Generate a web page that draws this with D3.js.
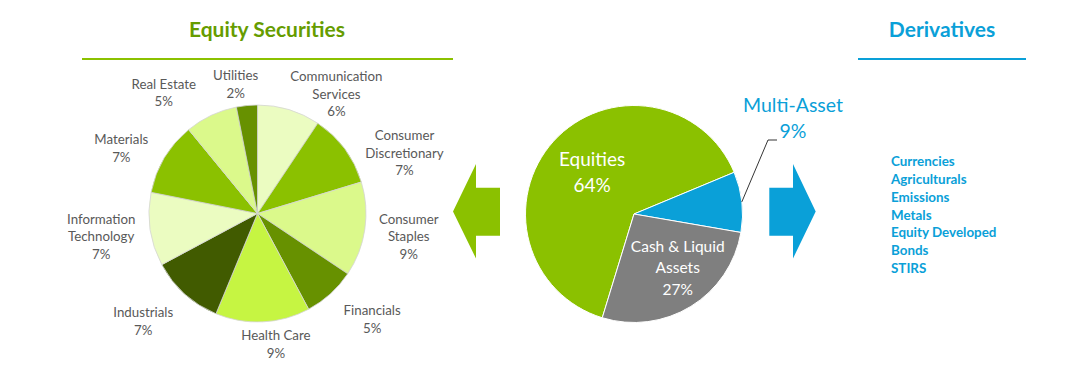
<!DOCTYPE html>
<meta charset="utf-8">
<title>Portfolio breakdown</title>
<body style="margin:0;background:#fff">
<style>
body { font-family: Lato, "Noto Sans", sans-serif; }
.lbl { fill: #595959; font-size: 13.3px; text-anchor: middle; }
.title { font-weight: bold; font-size: 21px; text-anchor: middle; }
</style>
<svg id="chart" width="1072" height="377"></svg>
<script src="https://cdn.jsdelivr.net/npm/d3@7"></script>
<script>
// sectors of the equity book, clockwise from 12 o'clock
var sectors = ["Communication Services", "Consumer Discretionary", "Consumer Staples", "Financials",
  "Health Care", "Industrials", "Information Technology", "Materials", "Real Estate", "Utilities"];
var sectorShares = [6, 7, 9, 5, 9, 7, 7, 7, 5, 2];
var sectorColors = ["#ebfcc1", "#8bc100", "#dbf98b", "#679100", "#c6f542",
  "#415b00", "#ebfcc1", "#8bc100", "#dbf98b", "#679100"];
// label lines as drawn
var sectorLines = [["Communication", "Services"], ["Consumer", "Discretionary"], ["Consumer", "Staples"],
  ["Financials"], ["Health Care"], ["Industrials"], ["Information", "Technology"], ["Materials"],
  ["Real Estate"], ["Utilities"]];

var assets = ["Equities", "Multi-Asset", "Cash & Liquid Assets"];
var assetShares = [64, 9, 27];
var assetColors = ["#8bc100", "#0aa0d8", "#7f7f7f"];

var derivatives = ["Currencies", "Agriculturals", "Emissions", "Metals", "Equity Developed", "Bonds", "STIRS"];

// label placement (angle in degrees, distance from centre) - excel "best fit" look
var sectorLabelPos = [[33.5, 143], [67.6, 159], [98.7, 153], [132.7, 156], [172, 132],
  [226.7, 157], [261.6, 158], [295.6, 151], [322.2, 153], [350.4, 131]];

var svg = d3.select("#chart");
var green = "#8bc100", darkGreen = "#669c00", blue = "#0aa0d8";
var rad = Math.PI / 180;
var R = 108.5;

// ---- titles
svg.append("text").attr("class", "title").attr("x", 267).attr("y", 37)
  .style("fill", darkGreen).text("Equity Securities");
svg.append("rect").attr("x", 82).attr("y", 58).attr("width", 371).attr("height", 2).style("fill", green);
svg.append("text").attr("class", "title").attr("x", 942).attr("y", 37)
  .style("fill", blue).text("Derivatives");
svg.append("rect").attr("x", 858).attr("y", 58).attr("width", 168).attr("height", 2).style("fill", blue);

// ---- left pie
var gL = svg.append("g").attr("transform", "translate(257.5,213.5)");
var pieL = d3.pie().sort(null).value(function(d) { return d; });
var arcL = d3.arc().innerRadius(0).outerRadius(R);
gL.selectAll("path").data(pieL(sectorShares)).enter().append("path")
  .attr("d", arcL)
  .style("fill", function(d, i) { return sectorColors[i]; })
  .style("stroke", "#d4d4d4").style("stroke-width", 0.8);

var lineH = 17.5;
gL.selectAll("text.lbl").data(sectors).enter().append("text")
  .attr("class", "lbl")
  .each(function(d, i) {
    var p = d3.pointRadial(sectorLabelPos[i][0] * rad, sectorLabelPos[i][1]);
    var lines = sectorLines[i].concat([sectorShares[i] + "%"]);
    var top = p[1] - (lines.length - 1) * lineH / 2;
    var t = d3.select(this);
    lines.forEach(function(s, k) {
      t.append("tspan").attr("x", p[0]).attr("y", top + k * lineH + 4.7).text(s);
    });
  });

// ---- center pie
var gC = svg.append("g").attr("transform", "translate(634,214)");
var pieC = d3.pie().sort(null).value(function(d) { return d; })
  .startAngle(-163 * rad).endAngle(197 * rad);
var arcC = d3.arc().innerRadius(0).outerRadius(R);
var slicesC = pieC(assetShares);
gC.selectAll("path").data(slicesC).enter().append("path")
  .attr("d", arcC)
  .style("fill", function(d, i) { return assetColors[i]; })
  .style("stroke", "#fff").style("stroke-width", 1);

// equities label
var pe = d3.pointRadial(322.6 * rad, 69);
gC.append("text").attr("text-anchor", "middle").style("fill", "#fff").style("font-size", "19px")
  .selectAll("tspan").data([assets[0], assetShares[0] + "%"]).enter().append("tspan")
  .attr("x", pe[0]).attr("y", function(d, k) { return pe[1] + k * 26 + 6.6; })
  .text(function(d) { return d; });

// cash label
var pc = d3.pointRadial(141 * rad, 69.5);
gC.append("text").attr("text-anchor", "middle").style("fill", "#fff").style("font-size", "15.5px")
  .selectAll("tspan").data(["Cash & Liquid", "Assets", assetShares[2] + "%"]).enter().append("tspan")
  .attr("x", pc[0]).attr("y", function(d, k) { return pc[1] + (k - 1) * 21.7 + 5.4; })
  .text(function(d) { return d; });

// multi-asset callout
var ms = slicesC[1];
var edge = d3.pointRadial((ms.startAngle + ms.endAngle) / 2, R);
gC.append("polyline")
  .attr("points", [edge, [134, -74], [143, -74]].map(function(p) { return p.join(","); }).join(" "))
  .style("fill", "none").style("stroke", "#000").style("stroke-width", 0.8);
gC.append("text").attr("text-anchor", "middle").style("fill", blue).style("font-size", "19.5px")
  .selectAll("tspan").data([assets[1], assetShares[1] + "%"]).enter().append("tspan")
  .attr("x", 159).attr("y", function(d, k) { return -109 + k * 26 + 6.8; })
  .text(function(d) { return d; });

// ---- arrows
svg.append("path")
  .attr("d", "M453,211.5 L476,164 L476,187.7 L500,187.7 L500,235.7 L476,235.7 L476,258.5 Z")
  .style("fill", green);
svg.append("path")
  .attr("d", "M815.7,211.5 L793,164 L793,187.7 L769.3,187.7 L769.3,235.7 L793,235.7 L793,258.5 Z")
  .style("fill", blue);

// ---- derivatives list
svg.append("g").selectAll("text").data(derivatives).enter().append("text")
  .attr("x", 891).attr("y", function(d, i) { return 161.7 + i * 17.7 + 4.7; })
  .style("fill", blue).style("font-weight", "bold").style("font-size", "13.4px")
  .text(function(d) { return d; });
</script>
</body>
